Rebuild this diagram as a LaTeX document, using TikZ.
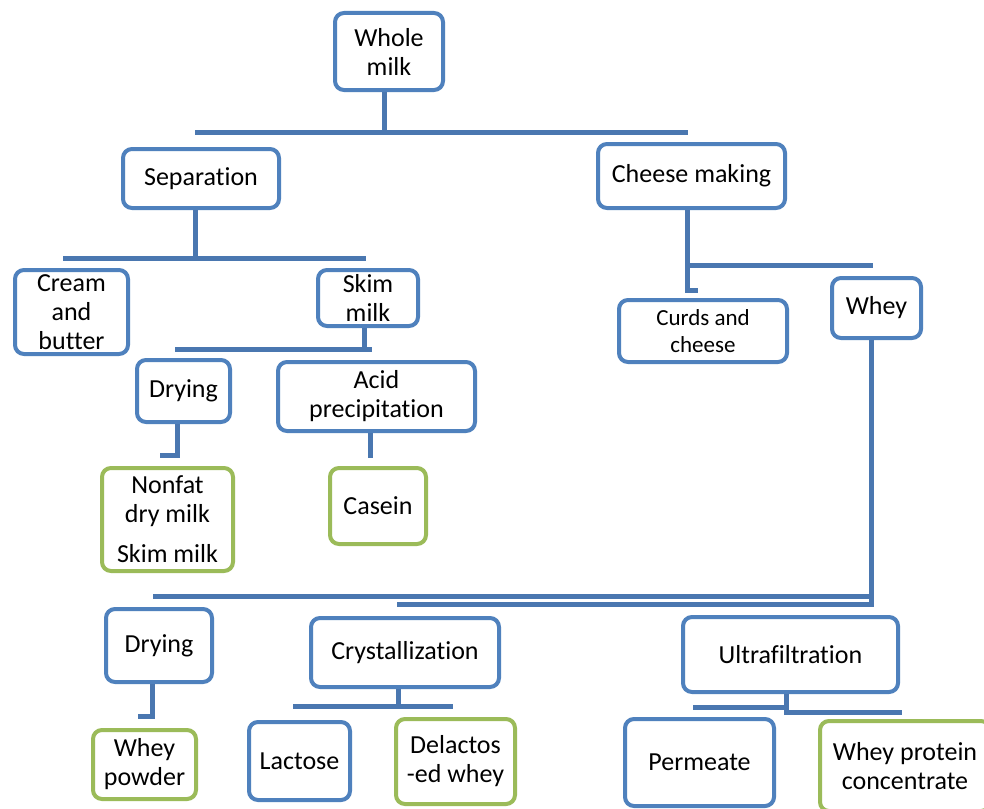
\documentclass[tikz,border=0pt]{standalone}
\usepackage{fontspec}
\setmainfont{Carlito}[Ligatures=NoCommon]
\definecolor{boxblue}{HTML}{4F81BD}
\definecolor{boxgreen}{HTML}{9BBB59}
\definecolor{linkblue}{HTML}{4A77B0}
\begin{document}
\begin{tikzpicture}[x=1pt,y=-1pt,
  box/.style={draw=boxblue, line width=4pt, rounded corners=9pt, fill=white, align=center, inner sep=0pt, font=\fontsize{26}{29}\selectfont},
  gbox/.style={box, draw=boxgreen},
  conn/.style={draw=linkblue, line width=5pt}]
\useasboundingbox[fill=white] (0,0) rectangle (984,808);
% boxes
\node[box, minimum width=108pt, minimum height=77pt] (whole) at (389,51.5) {Whole\\milk};
\node[box, minimum width=156pt, minimum height=59pt] (sep) at (201,178.5) {Separation};
\node[box, minimum width=187pt, minimum height=64pt] (cheese) at (691.5,176) {Cheese making};
\node[box, minimum width=113pt, minimum height=84pt] (cream) at (71.5,312) {Cream\\and\\butter};
\node[box, minimum width=100pt, minimum height=56pt] (skim) at (368,298) {Skim\\milk};
\node[box, minimum width=93pt, minimum height=62pt] (dry1) at (183.5,391) {Drying};
\node[box, minimum width=197pt, minimum height=69pt] (acid) at (376.5,396.5) {Acid\\precipitation};
\node[gbox, minimum width=131pt, minimum height=103pt] (nonfat) at (167.5,519.5) {Nonfat\\dry milk\\[11pt]Skim milk};
\node[gbox, minimum width=96pt, minimum height=76pt] (casein) at (378,506) {Casein};
\node[box, minimum width=168pt, minimum height=62pt, font=\fontsize{23}{27}\selectfont] (curds) at (703,331) {Curds and\\cheese};
\node[box, minimum width=89pt, minimum height=60pt] (whey) at (876.5,308) {Whey};
\node[box, minimum width=106pt, minimum height=73pt] (dry2) at (159,645.5) {Drying};
\node[box, minimum width=188pt, minimum height=69pt] (cryst) at (405,652.5) {Crystallization};
\node[box, minimum width=215pt, minimum height=75pt] (ultra) at (790.5,654.5) {Ultrafiltration};
\node[gbox, minimum width=103pt, minimum height=69pt] (wpowder) at (144.5,764.5) {Whey\\powder};
\node[box, minimum width=101pt, minimum height=78pt] (lactose) at (299.5,761) {Lactose};
\node[gbox, minimum width=119pt, minimum height=85pt] (delact) at (455.5,761.5) {Delactos\\-ed whey};
\node[box, minimum width=149pt, minimum height=87pt] (permeate) at (699.5,762.5) {Permeate};
\node[gbox, minimum width=170pt, minimum height=90pt] (wpc) at (905,766) {Whey protein\\concentrate};
% connector end points
\coordinate (b1l) at (195,132); \coordinate (b1r) at (688,132);
\coordinate (b2l) at (63,258); \coordinate (b2r) at (366,258);
\coordinate (b3l) at (175,349); \coordinate (b3r) at (372,349);
\coordinate (h1) at (160,455);
\coordinate (h2) at (370,458);
\coordinate (c4) at (687,265); \coordinate (b4r) at (873,265); \coordinate (h3) at (698,290);
\coordinate (w5) at (871,604); \coordinate (b5a) at (153,596); \coordinate (b5b) at (397,604);
\coordinate (h6) at (138,716);
\coordinate (b7l) at (293,706); \coordinate (b7r) at (453,706);
\coordinate (b8l) at (693,707); \coordinate (u8) at (786,707); \coordinate (b8r) at (902,712);
% connectors
\draw[conn] ([xshift=-5pt]whole.south) -- ([xshift=-5pt]whole.south |- b1l);
\draw[conn] (b1l) -- (b1r);
\draw[conn] ([xshift=-6pt]sep.south) -- ([xshift=-6pt]sep.south |- b2l);
\draw[conn] (b2l) -- (b2r);
\draw[conn] ([xshift=-4pt]skim.south) -- ([xshift=-4pt]skim.south |- b3l);
\draw[conn] (b3l) -- (b3r);
\draw[conn] ([xshift=-6pt]dry1.south) |- (h1);
\draw[conn] (acid.south -| h2) -- (h2);
\draw[conn] (cheese.south -| c4) |- (h3);
\draw[conn] (c4) -- (b4r);
\draw[conn] (whey.south -| w5) -- (w5) -- (b5b);
\draw[conn] (b5a) -- (b5a -| w5);
\draw[conn] ([xshift=-7pt]dry2.south) |- (h6);
\draw[conn] ([xshift=-7pt]cryst.south) -- ([xshift=-7pt]cryst.south |- b7l);
\draw[conn] (b7l) -- (b7r);
\draw[conn] (ultra.south -| u8) |- (b8r);
\draw[conn] (b8l) -- (u8);
\end{tikzpicture}
\end{document}
